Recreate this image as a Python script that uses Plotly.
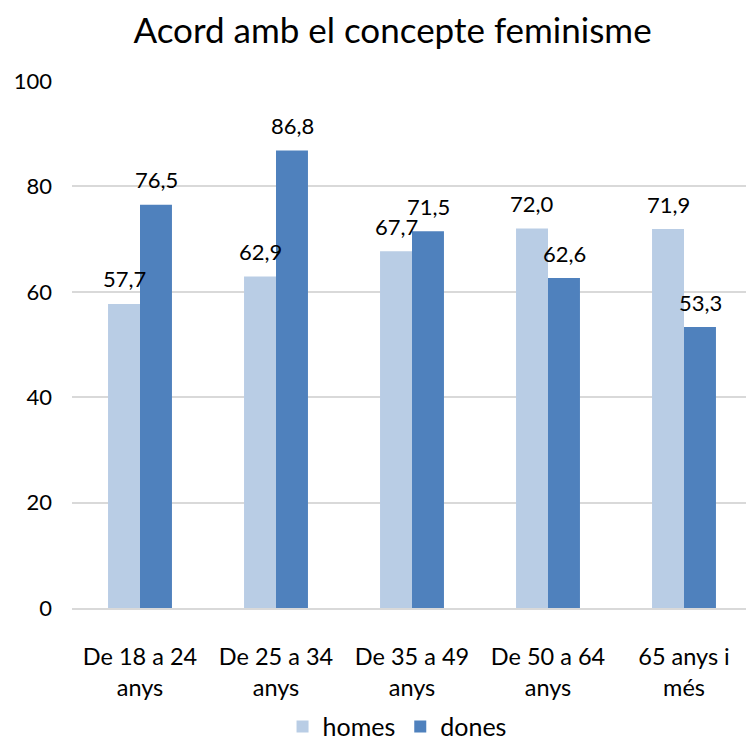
import plotly.graph_objects as go

categories = ["De 18 a 24<br>anys", "De 25 a 34<br>anys", "De 35 a 49<br>anys",
              "De 50 a 64<br>anys", "65 anys i<br>més"]
homes = [57.7, 62.9, 67.7, 72.0, 71.9]
dones = [76.5, 86.8, 71.5, 62.6, 53.3]


def etiqueta(v):
    return f"{v:.1f}".replace(".", ",")


fig = go.Figure()
fig.add_trace(go.Bar(x=categories, y=homes, name="homes", marker_color="#B9CDE5",
                     marker_line_width=0))
fig.add_trace(go.Bar(x=categories, y=dones, name="dones", marker_color="#4F81BD",
                     marker_line_width=0))

# etiquetes de dades per sobre de cada barra
for serie, desplac in [(homes, -16), (dones, 16)]:
    for cat, v in zip(categories, serie):
        fig.add_annotation(x=cat, y=v, text=etiqueta(v), showarrow=False,
                           xshift=desplac, yshift=25, yanchor="middle",
                           font=dict(size=22, color="black"))

fig.update_layout(
    width=754, height=744,
    font=dict(family="Lato", color="black"),
    title=dict(text="Acord amb el concepte feminisme", x=0.51, y=0.97,
               xanchor="center", yanchor="middle", font=dict(size=35)),
    barmode="group", bargap=0.53, bargroupgap=0,
    plot_bgcolor="white", paper_bgcolor="white",
    margin=dict(l=64, r=10, t=73, b=144),
    yaxis=dict(range=[0, 100], dtick=20, gridcolor="#D9D9D9", gridwidth=1.5,
               zeroline=False, tickfont=dict(size=22), ticks="",
               ticklabelstandoff=19, automargin=False),
    xaxis=dict(showline=True, linecolor="#D9D9D9", linewidth=1.5,
               tickfont=dict(size=23.5), ticklabelstandoff=27, automargin=False),
    legend=dict(orientation="h", x=0.478, xanchor="center",
                yref="container", y=0.034, yanchor="middle",
                font=dict(size=25)),
)

fig.write_html("out.html")
